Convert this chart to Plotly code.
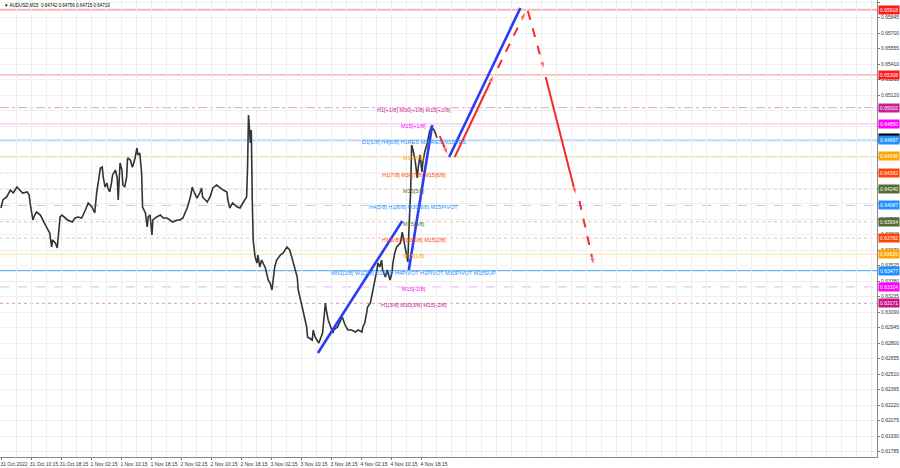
import plotly.graph_objects as go

# ---------------- data ----------------
# M15 bar index (0 = first bar on chart) and price
bars = [0, 2, 6, 10, 13, 17, 20, 23, 28, 30, 31, 33, 34, 36, 38, 42, 45, 49, 52, 54,
        55, 58, 60, 61, 63, 65, 68, 71, 76, 79, 82, 86, 90, 93, 97, 100, 102, 106, 108, 109,
        111, 113, 114, 116, 118, 119, 122, 124, 125, 126, 127, 129, 130, 132, 134, 135, 138, 140, 141, 143,
        145, 146, 148, 150, 151, 154, 156, 157, 159, 161, 162, 166, 170, 173, 177, 180, 183, 188, 191, 194,
        196, 199, 202, 204, 205, 209, 212, 214, 215, 220, 223, 226, 230, 234, 237, 241, 242, 244, 247, 252,
        255, 258, 262, 263, 264, 266, 267, 268, 269, 271, 273, 274, 276, 278, 282, 285, 287, 289, 290, 292,
        294, 298, 301, 305, 308, 311, 316, 317, 319, 321, 322, 326, 327, 332, 333, 335, 339, 343, 346, 347,
        349, 354, 355, 359, 362, 364, 367, 370, 374, 378, 381, 385, 386, 388, 390, 391, 394, 397, 399, 401,
        402, 404, 406, 407, 410, 412, 415, 417, 418, 420, 422, 426, 428, 429, 431, 433, 434, 435, 436, 437,
        438, 440, 442, 444, 445, 447, 449, 450, 452, 454, 455, 457, 459, 460, 462, 464, 465]
prices = [0.64063, 0.64138, 0.64166, 0.64231, 0.64203, 0.64259, 0.64231, 0.64203, 0.64213, 0.64184,
          0.64110, 0.64016, 0.63951, 0.63997, 0.64025, 0.63997, 0.63951, 0.63876, 0.63829, 0.63698,
          0.63764, 0.63735, 0.63689, 0.63792, 0.63979, 0.63997, 0.63969, 0.63951, 0.63932, 0.63969,
          0.63979, 0.63969, 0.64044, 0.64110, 0.64072, 0.64016, 0.64203, 0.64437, 0.64446, 0.64353,
          0.64259, 0.64297, 0.64250, 0.64213, 0.64306, 0.64372, 0.64418, 0.64344, 0.64138, 0.64278,
          0.64484, 0.64418, 0.64278, 0.64259, 0.64353, 0.64531, 0.64512, 0.64446, 0.64465, 0.64531,
          0.64624, 0.64559, 0.64577, 0.64390, 0.64072, 0.64016, 0.63885, 0.63979, 0.63997, 0.63810,
          0.63951, 0.63979, 0.63997, 0.63969, 0.63969, 0.63951, 0.63932, 0.63951, 0.63951, 0.63969,
          0.64016, 0.64072, 0.64166, 0.64259, 0.64231, 0.64156, 0.64203, 0.64250, 0.64166, 0.64119,
          0.64166, 0.64250, 0.64278, 0.64250, 0.64231, 0.64213, 0.64138, 0.64063, 0.64110, 0.64072,
          0.64063, 0.64110, 0.64166, 0.64446, 0.64933, 0.64671, 0.64793, 0.64138, 0.63764, 0.63605,
          0.63548, 0.63623, 0.63511, 0.63576, 0.63502, 0.63389, 0.63361, 0.63296, 0.63389, 0.63511,
          0.63576, 0.63623, 0.63642, 0.63698, 0.63670, 0.63576, 0.63417, 0.63296, 0.63230, 0.63137,
          0.63109, 0.62950, 0.62856, 0.62828, 0.62922, 0.62856, 0.62800, 0.62893, 0.63174, 0.63109,
          0.63015, 0.62893, 0.62922, 0.62950, 0.63015, 0.63043, 0.62968, 0.62922, 0.62922, 0.62903,
          0.62922, 0.62903, 0.62950, 0.62987, 0.63081, 0.63137, 0.63174, 0.63296, 0.63389, 0.63483,
          0.63548, 0.63511, 0.63576, 0.63483, 0.63417, 0.63483, 0.63389, 0.63455, 0.63548, 0.63642,
          0.63698, 0.63735, 0.63838, 0.63792, 0.63698, 0.63605, 0.63558, 0.63829, 0.64016, 0.64231,
          0.64652, 0.64587, 0.64493, 0.64344, 0.64437, 0.64559, 0.64400, 0.64493, 0.64587, 0.64652,
          0.64680, 0.64774, 0.64821, 0.64811, 0.64793, 0.64746, 0.64719]

title_text = "AUDUSD,M15  0.64742 0.64756 0.64715 0.64719"
bid_price = 0.64719

x_tick_bars = [0, 32, 64, 96, 128, 160, 192, 224, 256, 288, 320, 352, 384, 416, 448]
x_tick_labels = ["31 Oct 2022", "31 Oct 10:15", "31 Oct 18:15", "1 Nov 02:15", "1 Nov 10:15",
                 "1 Nov 18:15", "2 Nov 02:15", "2 Nov 10:15", "2 Nov 18:15", "3 Nov 02:15",
                 "3 Nov 10:15", "3 Nov 18:15", "4 Nov 02:15", "4 Nov 10:15", "4 Nov 18:15"]

y_tick_vals = [0.65990, 0.65845, 0.65700, 0.65555, 0.65410, 0.65265, 0.65120, 0.64975, 0.64830,
               0.64685, 0.64540, 0.64395, 0.64250, 0.64105, 0.63960, 0.63815, 0.63670, 0.63525,
               0.63380, 0.63235, 0.63090, 0.62945, 0.62800, 0.62655, 0.62510, 0.62365, 0.62220,
               0.62075, 0.61930, 0.61785]

level_prices = [0.65918, 0.65308, 0.65002, 0.64850, 0.64697, 0.64545, 0.64392, 0.64240,
                0.64087, 0.63934, 0.63782, 0.63629, 0.63477, 0.63324, 0.63171]
level_texts = ["", "",
               "H1[+1/8] M30[+1/8] M15[+2/8]",
               "M15[+1/8]",
               "D1[1/8] H4[6/8] H1RES M30RES M15RES",
               "M15[7/8]",
               "H1[7/8] M30[7/8] M15[6/8]",
               "M15[5/8]",
               "H4[5/8] H1[6/8] M30[6/8] M15PIVOT",
               "M15[3/8]",
               "H1[5/8] M30[5/8] M15[2/8]",
               "M15[1/8]",
               "MN1[2/8] W1[2/8] D1SUP H4PIVOT H1PIVOT M30PIVOT M15SUP",
               "M15[-1/8]",
               "H1[3/8] M30[3/8] M15[-2/8]"]
level_label_colors = ["#ff1a1a", "#ff1a1a", "#c81e96", "#ff00ff", "#1e90ff", "#ffa500", "#ff4500",
                      "#556b2f", "#1e90ff", "#556b2f", "#ff4500", "#ffa500", "#1e90ff", "#ff00ff",
                      "#c71585"]
level_line_colors = ["#f6b3b3", "#f4a9a9", "#e6a0d6", "#f5b8f5", "#b9dcf8", "#f8ddb2", "#f4bba8",
                     "#c9cbb3", "#aacff4", "#c9cbb3", "#f4bba8", "#f8ddb2", "#6ab2f2", "#f3aef3",
                     "#dd96cf"]
level_line_dash = ["solid", "solid", "dashdot", "solid", "solid", "solid", "dot", "dot", "dash",
                   "dot", "dot", "solid", "solid", "dash", "dot"]
level_line_width = [2, 1.2, 1, 1, 2, 1, 1, 1, 1, 1, 1, 1, 1.3, 1, 1]
level_text_bar = 440

# projection paths (bar index, price)
blue_paths = [([338, 428], [0.62706, 0.63941]),
              ([435, 460], [0.63483, 0.64839]),
              ([478, 554], [0.64540, 0.65934])]
red_paths = [([468, 478], [0.64736, 0.64531], "solid"),
             ([484, 527], [0.64540, 0.65335], "solid"),
             ([530, 561], [0.65373, 0.65925], "dash"),
             ([562, 580], [0.65906, 0.65335], "dash"),
             ([581, 614], [0.65288, 0.64156], "solid"),
             ([617, 633], [0.64128, 0.63502], "dash")]

# ---------------- figure ----------------
FONT = "Liberation Sans"
fig = go.Figure()

shapes = []
for p, c, d, w in zip(level_prices, level_line_colors, level_line_dash, level_line_width):
    shapes.append(dict(type="line", xref="paper", x0=0, x1=1, yref="y", y0=p, y1=p,
                       line=dict(color=c, width=w, dash=d), layer="below"))

fig.add_trace(go.Scatter(x=bars, y=prices, mode="lines",
                         line=dict(color="#333333", width=1.6), hoverinfo="skip"))

for xs, ys in blue_paths:
    fig.add_trace(go.Scatter(x=xs, y=ys, mode="lines",
                             line=dict(color="#2a3cf5", width=2.6), hoverinfo="skip"))

for xs, ys, dash in red_paths:
    fig.add_trace(go.Scatter(x=xs, y=ys, mode="lines+markers",
                             line=dict(color="#f52a2a", width=2, dash=dash),
                             marker=dict(symbol="arrow", size=[0, 8], color="#f52a2a",
                                         angleref="previous", standoff=3),
                             hoverinfo="skip"))

annotations = []
for p, t, c in zip(level_prices, level_texts, level_label_colors):
    if t:
        annotations.append(dict(x=level_text_bar, y=p, xref="x", yref="y", text=t,
                                showarrow=False, xanchor="center", yanchor="middle", yshift=-2,
                                font=dict(family=FONT, size=5.5, color=c)))

# bid label, then the level price labels on the right axis
annotations.append(dict(x=1, y=bid_price, xref="paper", yref="y", text=f"{bid_price:.5f}",
                        showarrow=False, xanchor="left", yanchor="middle", xshift=1,
                        bgcolor="#000000", borderpad=1,
                        font=dict(family=FONT, size=5, color="white")))
for p, c in zip(level_prices, level_label_colors):
    annotations.append(dict(x=1, y=p, xref="paper", yref="y", text=f"{p:.5f}",
                            showarrow=False, xanchor="left", yanchor="middle", xshift=1,
                            bgcolor=c, borderpad=1,
                            font=dict(family=FONT, size=5, color="white")))

annotations.append(dict(x=0, y=1, xref="paper", yref="paper", text="▼ " + title_text,
                        showarrow=False, xanchor="left", yanchor="top", xshift=2, yshift=-1,
                        font=dict(family=FONT, size=4.5, color="#000000")))

fig.update_layout(
    width=900, height=468,
    margin=dict(l=0, r=23, t=0, b=11, autoexpand=False),
    paper_bgcolor="white", plot_bgcolor="white",
    showlegend=False,
    shapes=shapes, annotations=annotations,
    xaxis=dict(range=[-1.07, 934.4], tickvals=x_tick_bars, ticktext=x_tick_labels,
               tickangle=0, automargin=False, ticklabeloverflow="allow",
               ticklabelshift=13, ticks="outside", ticklen=2, tickcolor="#777",
               tickfont=dict(family=FONT, size=5, color="#333"),
               showgrid=True, gridcolor="#eeeeee", gridwidth=1,
               minor=dict(tick0=0, dtick=16, showgrid=True, gridcolor="#eeeeee"),
               showline=True, linecolor="#888", linewidth=1, zeroline=False, fixedrange=True),
    yaxis=dict(range=[0.617335, 0.660087], side="right", tickvals=y_tick_vals,
               automargin=False,
               tickformat=".5f", ticks="outside", ticklen=2, tickcolor="#777",
               tickfont=dict(family=FONT, size=5, color="#333"),
               showgrid=True, gridcolor="#f0f0f0", showline=True, linecolor="#888",
               linewidth=1, zeroline=False, fixedrange=True),
)

fig.write_html("out.html", config={"displayModeBar": False},
               post_script="document.body.style.margin='0';document.body.style.overflow='hidden';")
